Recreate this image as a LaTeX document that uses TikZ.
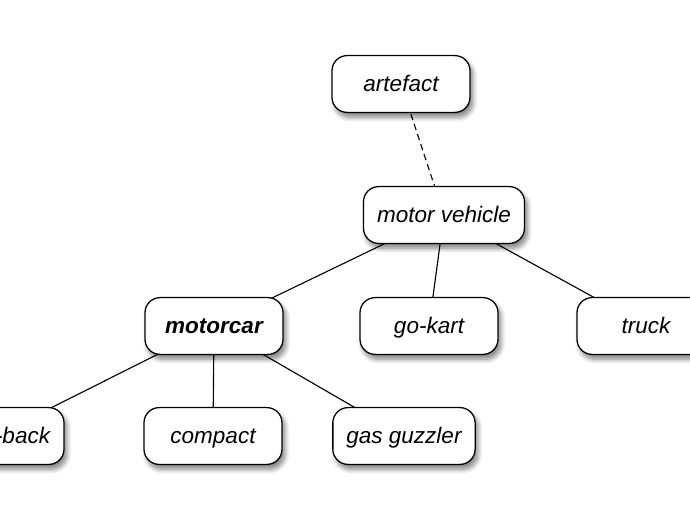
\documentclass[tikz,border=0pt]{standalone}
\usepackage{fontspec}
\setmainfont{Liberation Sans}
\usetikzlibrary{backgrounds,shadows.blur}
\tikzset{
	kind/.style={draw=black, line width=0.9pt, fill=white, rounded corners=0.38cm,
		minimum width=3.45cm, minimum height=1.42cm, inner xsep=0.34cm,
		text height=2.3ex, text depth=0.3ex,
		font=\fontsize{16}{19}\selectfont\itshape,
		blur shadow={shadow xshift=0.07cm, shadow yshift=-0.12cm, shadow blur radius=0.12cm,
			shadow blur steps=8, shadow opacity=50}},
	link/.style={line width=0.8pt}
}

\begin{document}
\begin{tikzpicture}[x=0.025cm, y=0.025cm]
		%%%%% START %%%%%
		\useasboundingbox (0, 0) rectangle (690, -518);
		\clip (0, 0) rectangle (690, -518);
		
		\node[kind] (artefact) at (401, -84) {artefact};
		\node[kind] (vehicle) at (444, -215) {motor vehicle};
		
		\node[kind, font=\fontsize{16}{19}\selectfont\bfseries\itshape] (motorcar) at (214, -326) {motorcar};
		\node[kind] (gokart) at (429, -326) {go-kart};
		\node[kind] (truck) at (646, -326) {truck};
		
		\node[kind] (hatchback) at (-5, -436) {hatch-back};
		\node[kind] (compact) at (213, -436) {compact};
		\node[kind] (guzzler) at (404, -436) {gas guzzler};
		
		\begin{pgfonlayer}{background}
			\draw[link, dash pattern=on 4.5pt off 3pt] (artefact.center) -- (vehicle.center);
			\draw[link] (vehicle.center) -- (motorcar.center);
			\draw[link] (vehicle.center) -- (gokart.center);
			\draw[link] (vehicle.center) -- (truck.center);
			\draw[link] (motorcar.center) -- (hatchback.center);
			\draw[link] (motorcar.center) -- (compact.center);
			\draw[link] (motorcar.center) -- (guzzler.center);
		\end{pgfonlayer}
		%%%%% END %%%%%
	\end{tikzpicture}
\end{document}
